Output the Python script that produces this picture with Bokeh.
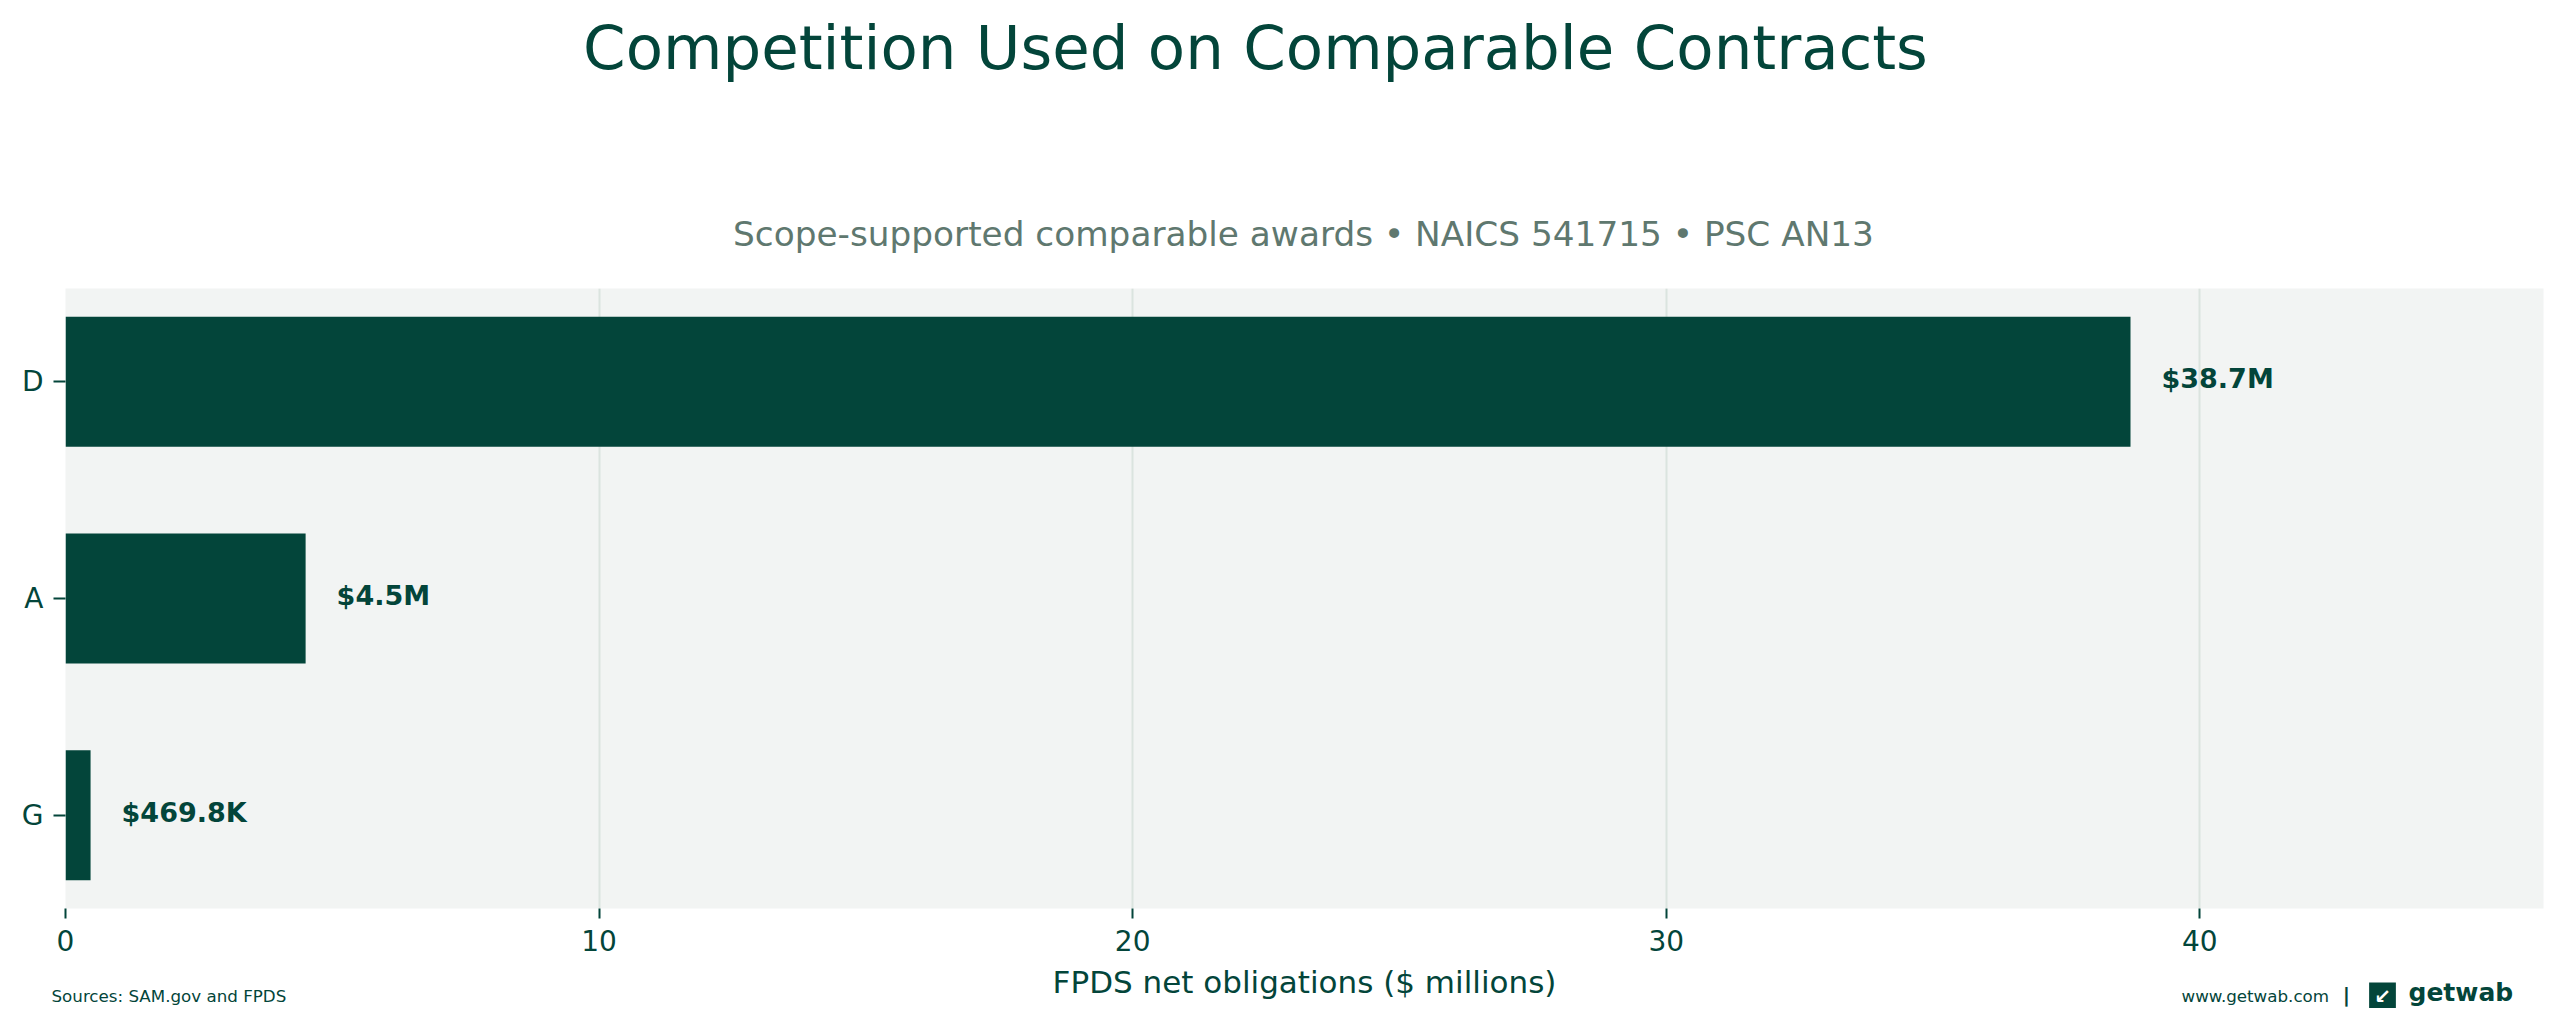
import numpy as np
from bokeh.plotting import figure
from bokeh.models import ColumnDataSource, Range1d, FixedTicker, Label
from bokeh.core.properties import value
from bokeh.embed import file_html
from bokeh.resources import INLINE

# datos (millones de dolares)
categorias = ["D", "A", "G"]
valores = [38.7, 4.5, 0.4698]
etiquetas = ["$38.7M", "$4.5M", "$469.8K"]
ticks_x = [0, 10, 20, 30, 40]

titulo = "Competition Used on Comparable Contracts"
subtitulo = "Scope-supported comparable awards \u2022 NAICS 541715 \u2022 PSC AN13"
eje_x = "FPDS net obligations ($ millions)"
fuente = "Sources: SAM.gov and FPDS"
web = "www.getwab.com"

verde = "#03453a"
gris = "#5f786f"
fondo = "#f2f4f3"
rejilla = "#dbe4df"
letra = "DejaVu Sans"

# D arriba, G abajo
posiciones = list(range(len(categorias)))[::-1]
src = ColumnDataSource(data=dict(pos=posiciones, val=valores, txt=etiquetas))

p = figure(width=2549, height=1008,
           x_range=Range1d(0, max(valores) * 1.2),
           y_range=Range1d(-0.43, len(categorias) - 1 + 0.43),
           output_backend="svg", toolbar_location=None,
           min_border_left=65, min_border_right=6,
           min_border_top=288, min_border_bottom=100)

p.background_fill_color = fondo
p.border_fill_color = "white"
p.outline_line_color = None

p.hbar(y="pos", right="val", left=0, height=0.6, source=src,
       fill_color=verde, line_color=None)
p.text(x="val", y="pos", text="txt", source=src, x_offset=31, y_offset=-3,
       text_baseline="middle", text_align="left",
       text_font=value(letra), text_font_style="bold",
       text_font_size="27px", text_color=verde)

# ejes
p.xaxis.ticker = FixedTicker(ticks=ticks_x)
p.xgrid.ticker = FixedTicker(ticks=ticks_x)
p.xgrid.grid_line_color = rejilla
p.xgrid.grid_line_width = 2
p.ygrid.grid_line_color = None
p.yaxis.ticker = FixedTicker(ticks=posiciones)
p.yaxis.major_label_overrides = {k: c for k, c in zip(posiciones, categorias)}

for ax in [p.xaxis[0], p.yaxis[0]]:
    ax.axis_line_color = None
    ax.major_tick_in = 0
    ax.minor_tick_line_color = None
    ax.major_tick_line_color = verde
    ax.major_tick_line_width = 2
    ax.major_label_text_font = letra
    ax.major_label_text_font_size = "28px"
    ax.major_label_text_color = verde

p.xaxis.major_tick_out = 10
p.xaxis.major_label_standoff = 11
p.yaxis.major_tick_out = 12
p.yaxis.major_label_standoff = 10

p.xaxis.axis_label = eje_x
p.xaxis.axis_label_text_font = letra
p.xaxis.axis_label_text_font_size = "31px"
p.xaxis.axis_label_text_font_style = "normal"
p.xaxis.axis_label_text_color = verde
p.xaxis.axis_label_standoff = 10


def texto(x, y, t, size, color=verde, align="left", estilo="normal", **kw):
    # etiqueta en coordenadas del lienzo (y = centro del texto),
    # en el panel superior para que no se recorte
    p.add_layout(Label(x=x, y=y, x_units="canvas", y_units="canvas", text=t,
                       text_align=align, text_baseline="middle", text_font=letra,
                       text_font_style=estilo, text_font_size=size,
                       text_color=color, **kw), "above")


texto(1255, 47, titulo, "61px", align="center")
texto(1303, 233, subtitulo, "34.3px", color=gris, align="center")
texto(51, 995, fuente, "16.7px")
texto(2181, 995, web, "16.7px")
texto(2346, 994, "|", "20px", align="center", estilo="bold")
# logo
texto(2382, 995, "\u2199", "20px", color="white", align="center",
      estilo="bold", background_fill_color=verde,
      padding=dict(left=5, right=5, top=1, bottom=1))
texto(2408, 992, "getwab", "25px", estilo="bold")

open("out.html", "w").write(file_html(p, INLINE))
